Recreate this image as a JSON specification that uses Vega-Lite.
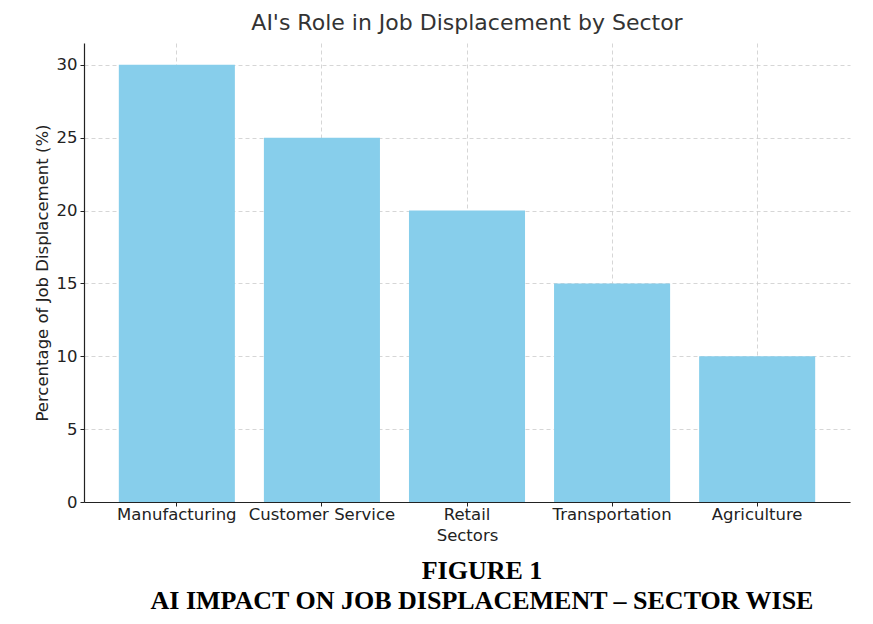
{
  "$schema": "https://vega.github.io/schema/vega-lite/v6.json",
  "padding": {"left": 34, "top": 12, "right": 23, "bottom": 10},
  "config": {
    "view": {"stroke": null},
    "font": "DejaVu Sans",
    "axis": {
      "grid": true,
      "gridColor": "#cccccc",
      "gridDash": [4, 3],
      "gridWidth": 0.8,
      "zindex": 1,
      "domainColor": "#222222",
      "domainWidth": 1.2,
      "tickColor": "#222222",
      "tickSize": 4,
      "labelFont": "DejaVu Sans",
      "labelFontSize": 16.5,
      "labelColor": "#222222",
      "titleFont": "DejaVu Sans",
      "titleFontSize": 16.5,
      "titleFontWeight": "normal",
      "titleColor": "#222222"
    }
  },
  "title": {
    "text": ["FIGURE 1", "AI IMPACT ON JOB DISPLACEMENT – SECTOR WISE"],
    "orient": "bottom",
    "anchor": "middle",
    "font": "Liberation Serif",
    "fontWeight": "bold",
    "fontSize": 26,
    "lineHeight": 30,
    "color": "#000000",
    "offset": 14,
    "dx": 40
  },
  "vconcat": [
    {
      "width": 766,
      "height": 459,
      "title": {
        "text": "AI's Role in Job Displacement by Sector",
        "font": "DejaVu Sans",
        "fontSize": 22,
        "fontWeight": "normal",
        "color": "#333333",
        "offset": 8
      },
      "data": {
        "values": [
          {"sector": "Manufacturing", "pct": 30},
          {"sector": "Customer Service", "pct": 25},
          {"sector": "Retail", "pct": 20},
          {"sector": "Transportation", "pct": 15},
          {"sector": "Agriculture", "pct": 10}
        ]
      },
      "mark": {"type": "bar", "color": "#87CEEB"},
      "encoding": {
        "x": {
          "field": "sector",
          "type": "nominal",
          "sort": null,
          "scale": {"paddingInner": 0.2, "paddingOuter": 0.24},
          "axis": {"labelAngle": 0, "title": "Sectors", "bandPosition": 0.5, "labelPadding": 0, "titlePadding": 5}
        },
        "y": {
          "field": "pct",
          "type": "quantitative",
          "scale": {"domain": [0, 31.5], "nice": false},
          "axis": {"title": "Percentage of Job Displacement (%)", "values": [0, 5, 10, 15, 20, 25, 30], "labelPadding": 3, "titlePadding": 6}
        }
      }
    }
  ]
}
